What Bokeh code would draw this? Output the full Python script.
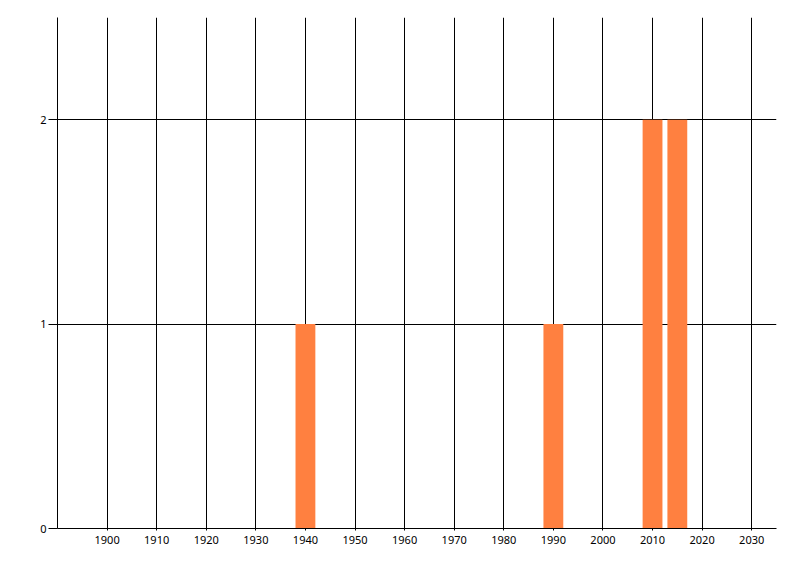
from bokeh.plotting import figure
from bokeh.models import FixedTicker, Range1d
from bokeh.embed import file_html
from bokeh.resources import INLINE

years = [1940, 1990, 2010, 2015]
counts = [1, 1, 2, 2]
x_ticks = [1900, 1910, 1920, 1930, 1940, 1950, 1960, 1970, 1980, 1990, 2000, 2010, 2020, 2030]
grid_x = [1890] + x_ticks
y_ticks = [0, 1, 2]

p = figure(width=792, height=568, output_backend="svg", toolbar_location=None,
           x_range=Range1d(1890, 2035), y_range=Range1d(0, 2.5),
           min_border_left=57, min_border_right=16, min_border_top=17, min_border_bottom=40)
p.outline_line_color = None
p.background_fill_color = "white"
p.border_fill_color = "white"

p.vbar(x=years, top=counts, width=4, bottom=0, color="#FF8040", line_color=None)

FONT = "Noto Sans"
p.xaxis.ticker = FixedTicker(ticks=x_ticks)
p.yaxis.ticker = FixedTicker(ticks=y_ticks)
p.xgrid.ticker = FixedTicker(ticks=grid_x)
p.ygrid.ticker = FixedTicker(ticks=y_ticks)
for g in (p.xgrid, p.ygrid):
    g.grid_line_color = "black"
    g.grid_line_width = 1
    g.grid_line_alpha = 1
    g.level = "underlay"

for ax in (p.xaxis, p.yaxis):
    ax.axis_line_color = "black"
    ax.axis_line_width = 1
    ax.major_tick_line_color = "black"
    ax.minor_tick_line_color = None
    ax.major_tick_in = 0
    ax.major_label_text_font = FONT
    ax.major_label_text_font_size = "11px"
    ax.major_label_text_color = "black"
p.xaxis.major_tick_out = 2
p.xaxis.major_label_standoff = 5
p.yaxis.major_tick_out = 9
p.yaxis.major_label_standoff = 2

open("out.html", "w").write(file_html(p, INLINE))
